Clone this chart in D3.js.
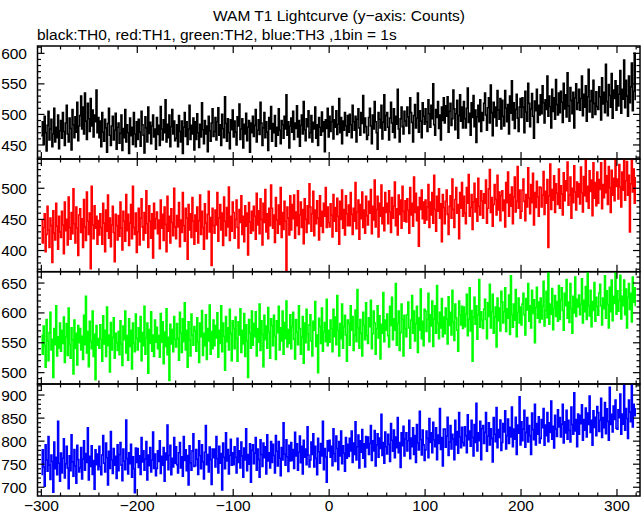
<!DOCTYPE html>
<html><head><meta charset="utf-8">
<script src="https://cdn.jsdelivr.net/npm/d3@7/dist/d3.min.js"></script>
<style>body{margin:0;background:#fff}svg{display:block}text{font-family:"Liberation Sans",Arial,sans-serif;fill:#000}</style>
</head><body><svg id="c" width="643" height="515"></svg>
<script>
const title = "WAM T1 Lightcurve (y\u2212axis: Counts)";
const subtitle = "black:TH0, red:TH1, green:TH2, blue:TH3 ,1bin = 1s";
const binStart = -300, binSize = 1;
const xDomain = [-304, 324];
const xTicks = [-300, -200, -100, 0, 100, 200, 300];
const seriesNames = ["TH0", "TH1", "TH2", "TH3"];
const seriesColors = ["#000000", "#ff0000", "#00ff00", "#0000ff"];
const yDomains = [[427, 612], [366, 547], [481, 669], [681, 924]];
const yTicks = [[450, 500, 550, 600], [400, 450, 500], [500, 550, 600, 650], [700, 750, 800, 850, 900]];

const th0 = [
465,488,451,497,470,440,482,505,458,476,492,447,468,510,455,479,462,499,444,473,
490,461,503,472,449,486,515,468,455,494,477,442,508,483,462,496,471,520,457,481,
498,530,476,512,468,535,489,459,518,493,472,526,481,507,463,499,488,540,470,495,
462,489,447,503,471,456,492,478,438,485,510,466,449,481,497,458,474,502,443,479,
486,453,469,499,441,477,462,508,455,483,470,436,494,465,479,451,503,468,447,488,
459,492,471,448,505,483,466,437,496,478,455,512,469,487,452,481,499,463,476,443,
495,467,482,449,513,476,458,491,470,524,455,484,462,499,447,480,508,468,489,457,
461,483,447,498,472,455,489,436,479,503,464,488,451,476,515,459,482,468,494,442,
488,459,501,470,446,484,463,519,475,452,490,468,481,439,497,473,456,486,509,464,
472,495,458,488,511,466,483,449,500,477,462,529,485,456,493,470,444,491,475,507,
463,489,471,450,496,481,517,459,476,493,445,484,468,502,457,479,490,438,486,470,
497,464,482,508,455,474,491,467,520,486,449,478,503,462,488,471,441,495,476,513,
456,485,470,498,448,479,466,509,474,452,490,483,461,497,476,532,466,488,445,481,
494,471,505,459,486,477,514,463,490,448,482,499,468,521,475,457,493,480,506,462,
470,498,455,487,476,512,461,483,449,495,479,466,504,472,488,439,491,477,510,463,
497,472,488,513,460,491,479,506,467,484,526,470,495,452,489,474,503,481,465,498,
471,500,483,462,515,488,474,497,455,492,509,478,466,503,485,531,470,494,480,459,
466,495,510,481,452,499,476,521,488,470,443,503,492,478,515,460,487,532,474,498,
503,479,458,494,520,486,471,509,462,497,484,541,476,455,493,512,480,468,505,489,
481,512,496,469,527,503,487,455,498,516,478,494,535,471,506,489,462,519,497,484,
509,488,472,524,501,479,515,493,550,483,466,508,495,521,477,499,458,512,490,527,
486,514,497,529,471,505,518,482,493,540,509,475,501,523,461,498,532,489,512,478,
521,493,478,510,543,487,502,466,519,495,531,480,507,454,496,515,488,524,472,503,
490,518,535,499,474,511,527,486,548,503,465,520,495,512,481,539,507,492,526,476,
523,497,481,539,510,488,516,468,530,502,555,491,519,477,508,533,494,472,512,526,
495,527,512,470,538,504,489,551,518,480,509,534,497,461,522,506,541,487,515,499,
532,501,547,519,486,524,508,563,497,530,513,478,541,505,527,492,557,516,499,535,
503,538,520,487,551,509,532,496,568,514,489,544,523,501,536,478,527,550,508,519,
541,507,526,563,498,533,512,547,489,529,574,504,522,539,495,556,518,500,537,513,
508,545,529,491,560,517,536,503,582,521,498,549,531,512,567,494,540,526,555,507,
547,514,533,572,502,541,525,589,511,556,530,497,563,519,545,584,506,538,600,523];

const th1 = [
448,412,437,459,398,426,471,433,405,452,440,381,464,428,417,476,439,402,455,430,
421,463,441,395,478,432,450,409,486,437,418,461,427,499,443,412,470,436,392,457,
467,429,451,405,482,438,416,494,447,426,460,371,503,441,419,472,436,455,410,448,
425,459,437,410,476,444,398,465,431,489,420,452,406,441,471,429,382,458,440,417,
456,423,478,436,401,463,447,415,490,432,458,408,444,474,419,503,437,426,460,397,
430,468,409,452,483,438,417,461,428,496,443,405,472,447,420,459,388,476,435,451,
462,427,449,403,481,436,458,416,470,442,398,487,431,455,412,467,445,424,500,438,
419,456,438,477,406,449,429,493,440,415,468,452,386,474,433,459,421,485,447,410,
457,431,470,412,448,489,426,463,437,402,475,444,419,458,495,430,453,376,468,440,
428,465,441,493,415,452,474,433,460,408,486,447,424,469,438,502,416,455,431,478,
461,420,450,481,437,404,466,445,488,426,455,414,472,439,460,393,477,446,428,463,
432,471,455,418,492,441,464,427,483,450,409,476,445,498,430,459,419,468,440,505,
468,436,457,413,485,449,428,473,442,501,421,461,434,479,447,366,470,452,425,488,
433,474,451,489,420,462,440,496,426,457,478,437,466,411,483,450,429,472,443,507,
470,431,459,495,424,465,443,480,452,417,488,439,463,429,476,455,501,437,470,445,
438,475,457,422,490,447,469,431,484,455,410,479,450,497,436,466,425,488,459,440,
473,440,493,458,426,468,447,509,435,462,481,418,474,451,494,437,465,428,487,456,
441,479,460,498,427,471,449,513,438,466,487,422,476,455,505,443,469,432,493,461,
476,443,496,462,429,485,452,471,510,440,467,425,489,458,481,436,503,463,447,480,
446,483,465,428,501,457,476,439,518,461,492,448,470,407,485,466,497,451,478,444,
481,449,470,506,437,478,457,493,444,521,466,431,487,463,499,452,475,414,490,469,
443,479,497,458,426,471,488,452,515,466,437,482,501,460,474,419,493,468,509,455,
487,460,443,501,476,522,455,469,490,434,478,508,462,483,447,516,471,457,496,480,
452,491,476,513,444,468,499,530,461,485,439,474,506,482,457,521,465,494,448,488,
496,464,481,438,509,477,526,455,490,471,502,443,486,518,462,479,535,468,497,452,
463,497,515,479,448,490,470,533,484,459,506,477,524,441,493,469,511,486,455,502,
501,470,489,527,458,495,476,514,405,488,539,466,498,481,520,461,507,492,474,531,
468,504,491,457,525,480,512,496,542,473,489,518,452,500,477,536,494,465,510,486,
507,475,534,493,462,519,488,547,479,503,468,528,495,513,456,541,484,509,472,526,
476,514,498,541,467,506,485,553,493,520,474,535,501,461,529,489,516,480,548,503,
515,483,538,502,470,526,497,560,481,512,543,489,521,430,507,552,494,531,476,518];

const th2 = [
562,531,578,545,509,589,553,520,567,601,538,556,492,574,547,612,528,560,541,583,
536,571,549,593,517,560,582,529,608,547,524,575,555,498,588,541,566,513,579,550,
574,538,561,522,596,547,628,533,569,510,586,552,540,603,527,564,488,579,546,557,
541,580,556,519,595,548,571,527,610,545,563,501,584,538,559,592,524,566,550,537,
569,530,587,548,512,578,555,603,533,562,521,590,544,571,506,583,549,535,598,557,
538,575,552,594,520,567,545,611,531,558,583,499,572,549,602,536,563,527,588,551,
576,540,562,526,599,551,585,515,568,544,607,530,559,487,581,548,572,535,594,556,
543,582,557,521,601,566,534,590,552,617,538,571,509,585,555,528,598,563,546,577,
570,536,592,551,517,583,560,604,529,566,545,597,522,574,553,613,531,569,540,588,
545,579,558,600,526,571,549,612,535,583,561,504,594,552,575,538,606,565,520,587,
574,540,593,557,519,585,563,607,534,571,548,599,527,580,553,492,589,566,541,603,
546,582,560,602,528,574,551,615,537,587,564,510,596,555,578,541,609,568,524,590,
579,545,596,561,522,587,567,611,538,575,553,603,531,584,557,620,543,572,549,597,
540,577,601,556,523,589,568,547,612,574,531,559,594,516,583,550,606,565,538,580,
597,553,528,586,571,619,544,563,500,591,577,549,608,536,569,584,552,623,545,571,
551,588,574,535,606,560,593,547,629,571,528,582,557,615,541,577,596,563,519,588,
583,546,612,571,594,537,563,605,552,639,575,541,589,566,528,601,579,555,617,562,
549,592,577,621,540,565,603,583,531,574,612,558,595,523,581,566,634,552,588,571,
598,562,543,611,579,626,555,590,571,649,546,583,603,537,567,615,589,528,596,574,
560,597,618,575,541,588,629,566,603,553,582,611,534,592,571,640,557,586,545,606,
603,569,589,633,552,597,578,620,544,590,612,566,646,583,557,601,575,624,560,593,
565,608,590,548,627,579,601,563,638,585,554,615,592,571,536,620,597,580,611,574,
610,577,598,631,562,589,642,570,604,519,593,626,581,612,556,597,656,576,602,588,
574,606,623,589,557,617,594,648,575,602,631,566,593,610,543,625,587,608,570,636,
618,583,602,642,569,607,591,630,564,662,597,576,615,588,639,560,601,625,583,610,
580,615,633,597,563,624,605,649,586,612,575,638,599,622,550,609,643,591,618,584,
625,590,611,653,578,604,636,592,669,581,615,598,641,572,607,629,594,619,586,646,
589,622,642,604,571,633,612,656,591,618,584,649,607,566,628,600,660,594,623,610,
630,597,615,657,583,621,602,644,589,672,612,595,638,577,619,604,651,586,626,611,
596,633,648,612,580,625,607,662,591,637,614,575,643,602,655,587,628,616,669,598,
637,603,621,663,590,628,612,655,597,640,575,626,649,606,633,585,660,618,642,611];

const th3 = [
728,781,744,702,792,759,735,810,748,717,770,756,689,798,740,765,727,843,752,713,
774,731,763,805,720,751,789,742,697,768,736,814,755,724,782,746,709,791,760,733,
742,786,718,761,801,737,773,754,829,716,767,745,790,728,758,696,781,749,772,738,
789,745,727,770,812,752,733,796,764,705,778,741,821,759,730,784,748,767,719,792,
736,771,797,748,714,783,757,738,846,762,729,775,751,793,722,766,740,688,785,754,
784,743,768,728,808,755,779,737,761,799,716,770,747,786,733,759,820,741,772,725,
741,779,756,801,730,767,748,786,713,774,759,835,738,769,791,727,763,744,808,752,
788,749,731,775,797,742,766,724,810,758,781,736,769,705,790,753,737,779,816,745,
747,782,761,728,801,769,740,792,755,718,776,834,749,771,733,787,760,706,783,764,
783,744,810,762,731,789,752,773,694,796,765,740,818,757,782,729,769,804,748,775,
749,788,765,731,806,754,779,742,798,768,722,785,759,827,736,771,750,794,711,780,
792,751,774,808,737,783,760,722,803,771,745,796,764,788,729,814,757,775,742,799,
754,793,769,731,812,778,746,799,763,725,786,759,840,772,748,803,766,734,791,757,
797,758,782,741,819,768,794,737,776,811,753,789,729,802,765,783,749,831,770,744,
759,798,771,816,744,789,763,727,806,777,752,795,768,843,738,784,766,711,801,779,
802,765,789,747,827,773,756,811,784,738,799,768,822,751,790,774,735,808,763,793,
767,806,779,822,754,796,771,842,759,788,813,742,801,776,825,763,794,744,810,785,
809,771,795,834,758,801,779,823,746,792,816,765,807,784,858,769,797,752,820,788,
772,815,793,756,838,802,778,824,764,809,786,851,775,797,743,818,790,832,768,805,
818,779,801,845,762,807,788,829,771,812,754,836,796,781,865,803,770,824,792,758,
781,822,806,764,849,797,818,775,841,803,788,829,760,813,795,871,782,808,746,826,
826,787,811,852,769,798,834,783,815,805,760,845,792,821,774,862,809,786,830,797,
790,831,812,775,857,803,822,789,845,808,768,836,797,882,779,818,801,843,760,827,
834,795,819,862,778,811,840,792,827,806,755,851,815,799,873,786,825,808,846,780,
797,838,820,866,783,812,848,795,830,809,874,788,826,804,852,771,835,817,896,792,
842,801,826,867,787,819,851,798,834,812,771,861,825,803,880,792,838,815,853,796,
806,847,829,871,791,835,812,862,799,840,819,887,804,832,785,856,826,810,868,831,
851,809,837,880,796,842,818,867,804,845,823,798,874,836,815,905,822,847,788,859,
815,856,838,879,802,847,824,872,809,861,836,898,819,845,791,866,830,852,812,875,
862,821,845,893,808,851,829,884,816,870,843,802,917,836,858,820,876,847,889,828,
826,868,851,902,815,859,837,930,824,871,849,806,889,863,842,925,831,880,855,872];

const series = [th0, th1, th2, th3];

const svg = d3.select("#c");
const left = 37.5, right = 640;
const panelEdges = [46, 159, 271.7, 384, 496];
const x = d3.scaleLinear().domain(xDomain).range([left, right]);
const MAJ = 7, MIN = 3.5;

svg.append("text").attr("x", 339).attr("y", 21).attr("text-anchor", "middle")
  .style("font-size", "15.5px").text(title);
svg.append("text").attr("x", 37).attr("y", 40)
  .style("font-size", "15.5px").text(subtitle);

const xMinor = d3.range(-300, 321, 20);

series.forEach((vals, p) => {
  const top = panelEdges[p], bot = panelEdges[p + 1];
  const y = d3.scaleLinear().domain(yDomains[p]).range([bot, top]);
  const g = svg.append("g");
  g.append("clipPath").attr("id", "clip" + p).append("rect")
    .attr("x", left).attr("y", top).attr("width", right - left).attr("height", bot - top);
  const line = d3.line()
    .x((d, i) => x(binStart + i * binSize))
    .y(d => y(d))
    .curve(d3.curveStepAfter);
  g.append("path").datum(vals).attr("clip-path", `url(#clip${p})`)
    .attr("fill", "none").attr("stroke", seriesColors[p]).attr("stroke-width", 1.6)
    .attr("d", line);

  // frame
  g.append("rect").attr("x", left).attr("y", top).attr("width", right - left).attr("height", bot - top)
    .attr("fill", "none").attr("stroke", "#000").attr("stroke-width", 1.5);

  const tk = g.append("g").attr("stroke", "#000").attr("stroke-width", 1.2);
  xMinor.forEach(v => {
    const len = (v % 100 === 0) ? MAJ : MIN;
    const xx = x(v);
    tk.append("line").attr("x1", xx).attr("x2", xx).attr("y1", bot).attr("y2", bot - len);
    tk.append("line").attr("x1", xx).attr("x2", xx).attr("y1", top).attr("y2", top + len);
  });
  const [d0, d1] = yDomains[p];
  d3.range(Math.ceil(d0 / 10) * 10, d1 + 0.001, 10).forEach(v => {
    const len = (v % 50 === 0) ? MAJ : MIN;
    const yy = y(v);
    tk.append("line").attr("x1", left).attr("x2", left + len).attr("y1", yy).attr("y2", yy);
    tk.append("line").attr("x1", right).attr("x2", right - len).attr("y1", yy).attr("y2", yy);
  });
  yTicks[p].forEach(v => {
    g.append("text").attr("x", 27).attr("y", y(v)).attr("dy", "0.36em")
      .attr("text-anchor", "end").style("font-size", "15.5px").text(v);
  });
});

xTicks.forEach(v => {
  svg.append("text").attr("x", x(v)).attr("y", 511).attr("text-anchor", "middle")
    .style("font-size", "15.5px").text(v < 0 ? "\u2212" + Math.abs(v) : v);
});
</script></body></html>
